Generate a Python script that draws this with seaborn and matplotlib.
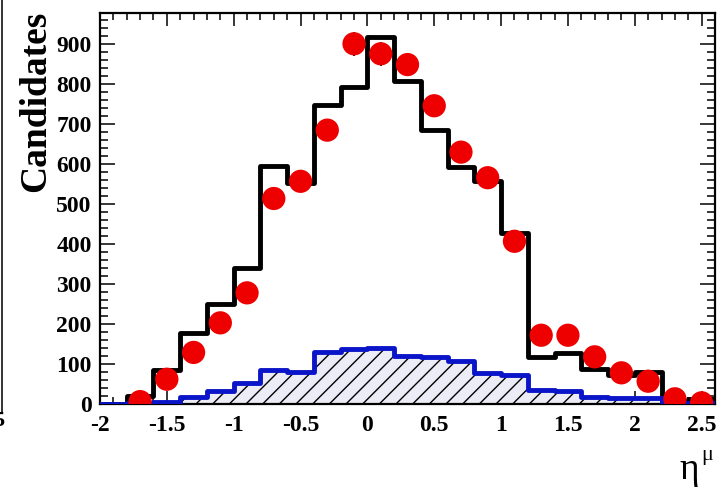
import numpy as np
import pandas as pd
import matplotlib
matplotlib.use("Agg")
import matplotlib.pyplot as plt
from matplotlib.lines import Line2D
from matplotlib.ticker import MultipleLocator
import seaborn as sns

# Bin edges of the eta distribution (width 0.2)
bin_edges = [-2.0, -1.8, -1.6, -1.4, -1.2, -1.0, -0.8, -0.6, -0.4, -0.2, 0.0,
             0.2, 0.4, 0.6, 0.8, 1.0, 1.2, 1.4, 1.6, 1.8, 2.0, 2.2, 2.4, 2.6]

# Total expectation (black histogram)
total_counts = [0, 20, 85, 177, 250, 339, 596, 553, 747, 792, 918,
                808, 686, 592, 557, 427, 117, 128, 88, 72, 81, 3, 12]

# Background component (blue hatched histogram)
background_counts = [0, 2, 4, 18, 32, 52, 84, 79, 129, 137, 141,
                     121, 117, 107, 78, 72, 35, 33, 18, 16, 14, 2, 2]

# Data points at bin centres
data_eta = [-1.7, -1.5, -1.3, -1.1, -0.9, -0.7, -0.5, -0.3, -0.1, 0.1, 0.3,
            0.5, 0.7, 0.9, 1.1, 1.3, 1.5, 1.7, 1.9, 2.1, 2.3, 2.5]
data_counts = [6, 62, 129, 203, 278, 514, 557, 685, 901, 876, 849,
               746, 630, 566, 407, 172, 172, 118, 78, 57, 13, 3]

x_ticks = [-2, -1.5, -1, -0.5, 0, 0.5, 1, 1.5, 2, 2.5]
x_tick_labels = ["-2", "-1.5", "-1", "-0.5", "0", "0.5", "1", "1.5", "2", "2.5"]
y_ticks = [0, 100, 200, 300, 400, 500, 600, 700, 800, 900]
y_tick_labels = [str(v) for v in y_ticks]

sns.set_theme(style="white")
plt.rcParams["font.family"] = ["Liberation Serif", "DejaVu Serif"]
plt.rcParams["hatch.linewidth"] = 1.0
plt.rcParams["hatch.color"] = "black"

W, H = 721, 490
fig = plt.figure(figsize=(W / 100, H / 100), dpi=100)
fig.patch.set_facecolor("white")
ax = fig.add_axes([100 / W, 1 - 404 / H, 615 / W, (404 - 13) / H])
ax.set_facecolor("white")

centers = (np.array(bin_edges[:-1]) + np.array(bin_edges[1:])) / 2
hist_df = pd.DataFrame({"eta": centers,
                        "total": total_counts,
                        "background": background_counts})
data_df = pd.DataFrame({"eta": data_eta, "count": data_counts})

# Background: hatched fill and blue outline
sns.histplot(data=hist_df, x="eta", weights="background", bins=bin_edges,
             element="step", fill=True, facecolor="#ececf7", edgecolor="black",
             linewidth=0, hatch="//", ax=ax, zorder=1)
sns.histplot(data=hist_df, x="eta", weights="background", bins=bin_edges,
             element="step", fill=False, color="#0a14c8", linewidth=3.5,
             ax=ax, zorder=3)
# Total prediction: black outline
sns.histplot(data=hist_df, x="eta", weights="total", bins=bin_edges,
             element="step", fill=False, color="black", linewidth=3.5,
             ax=ax, zorder=2)

# Data with Poisson errors
ax.errorbar(data_df["eta"], data_df["count"], yerr=np.sqrt(data_df["count"]),
            fmt="none", ecolor="black", elinewidth=1.3, capsize=0, zorder=4)
sns.scatterplot(data=data_df, x="eta", y="count", color="#ee0000",
                s=280, edgecolor="none", linewidth=0, ax=ax, zorder=5)

ax.set_xlim(-2.0, 2.6)
ax.set_ylim(0, 978)
ax.set_xlabel("")
ax.set_ylabel("")

ax.set_xticks(x_ticks)
ax.set_xticklabels(x_tick_labels)
ax.set_yticks(y_ticks)
ax.set_yticklabels(y_tick_labels)
ax.xaxis.set_minor_locator(MultipleLocator(0.1))
ax.yaxis.set_minor_locator(MultipleLocator(20))

ax.tick_params(which="both", direction="in", top=True, right=True,
               bottom=True, left=True, color="black", width=1.1)
ax.tick_params(axis="x", which="major", length=9.5, pad=8)
ax.tick_params(axis="x", which="minor", length=5)
ax.tick_params(axis="y", which="major", length=11, pad=6)
ax.tick_params(axis="y", which="minor", length=5.5)
for lab in ax.get_xticklabels() + ax.get_yticklabels():
    lab.set_fontsize(17)
    lab.set_fontweight("bold")
    lab.set_color("black")

for sp in ax.spines.values():
    sp.set_visible(True)
    sp.set_color("black")
    sp.set_linewidth(1.6)

# Axis titles
fig.text(36 / W, 1 - 11 / H, "Candidates", rotation=90, ha="center", va="top",
         fontsize=27, fontweight="bold", color="black")
fig.text(679 / W, 1 - 479 / H, "η", ha="left", va="baseline",
         fontsize=27, color="black")
fig.text(701 / W, 1 - 460 / H, "μ", ha="left", va="baseline",
         fontsize=16, color="black")

# Edge of the neighbouring panel
fig.add_artist(Line2D([2 / W, 2 / W], [1, 1 - 412 / H], color="#333333", lw=1.4))
fig.text(4 / W, 1 - 421 / H, "5", ha="right", va="center", fontsize=16,
         fontweight="bold", color="black")

fig.savefig("out.png", dpi=100, facecolor="white")
